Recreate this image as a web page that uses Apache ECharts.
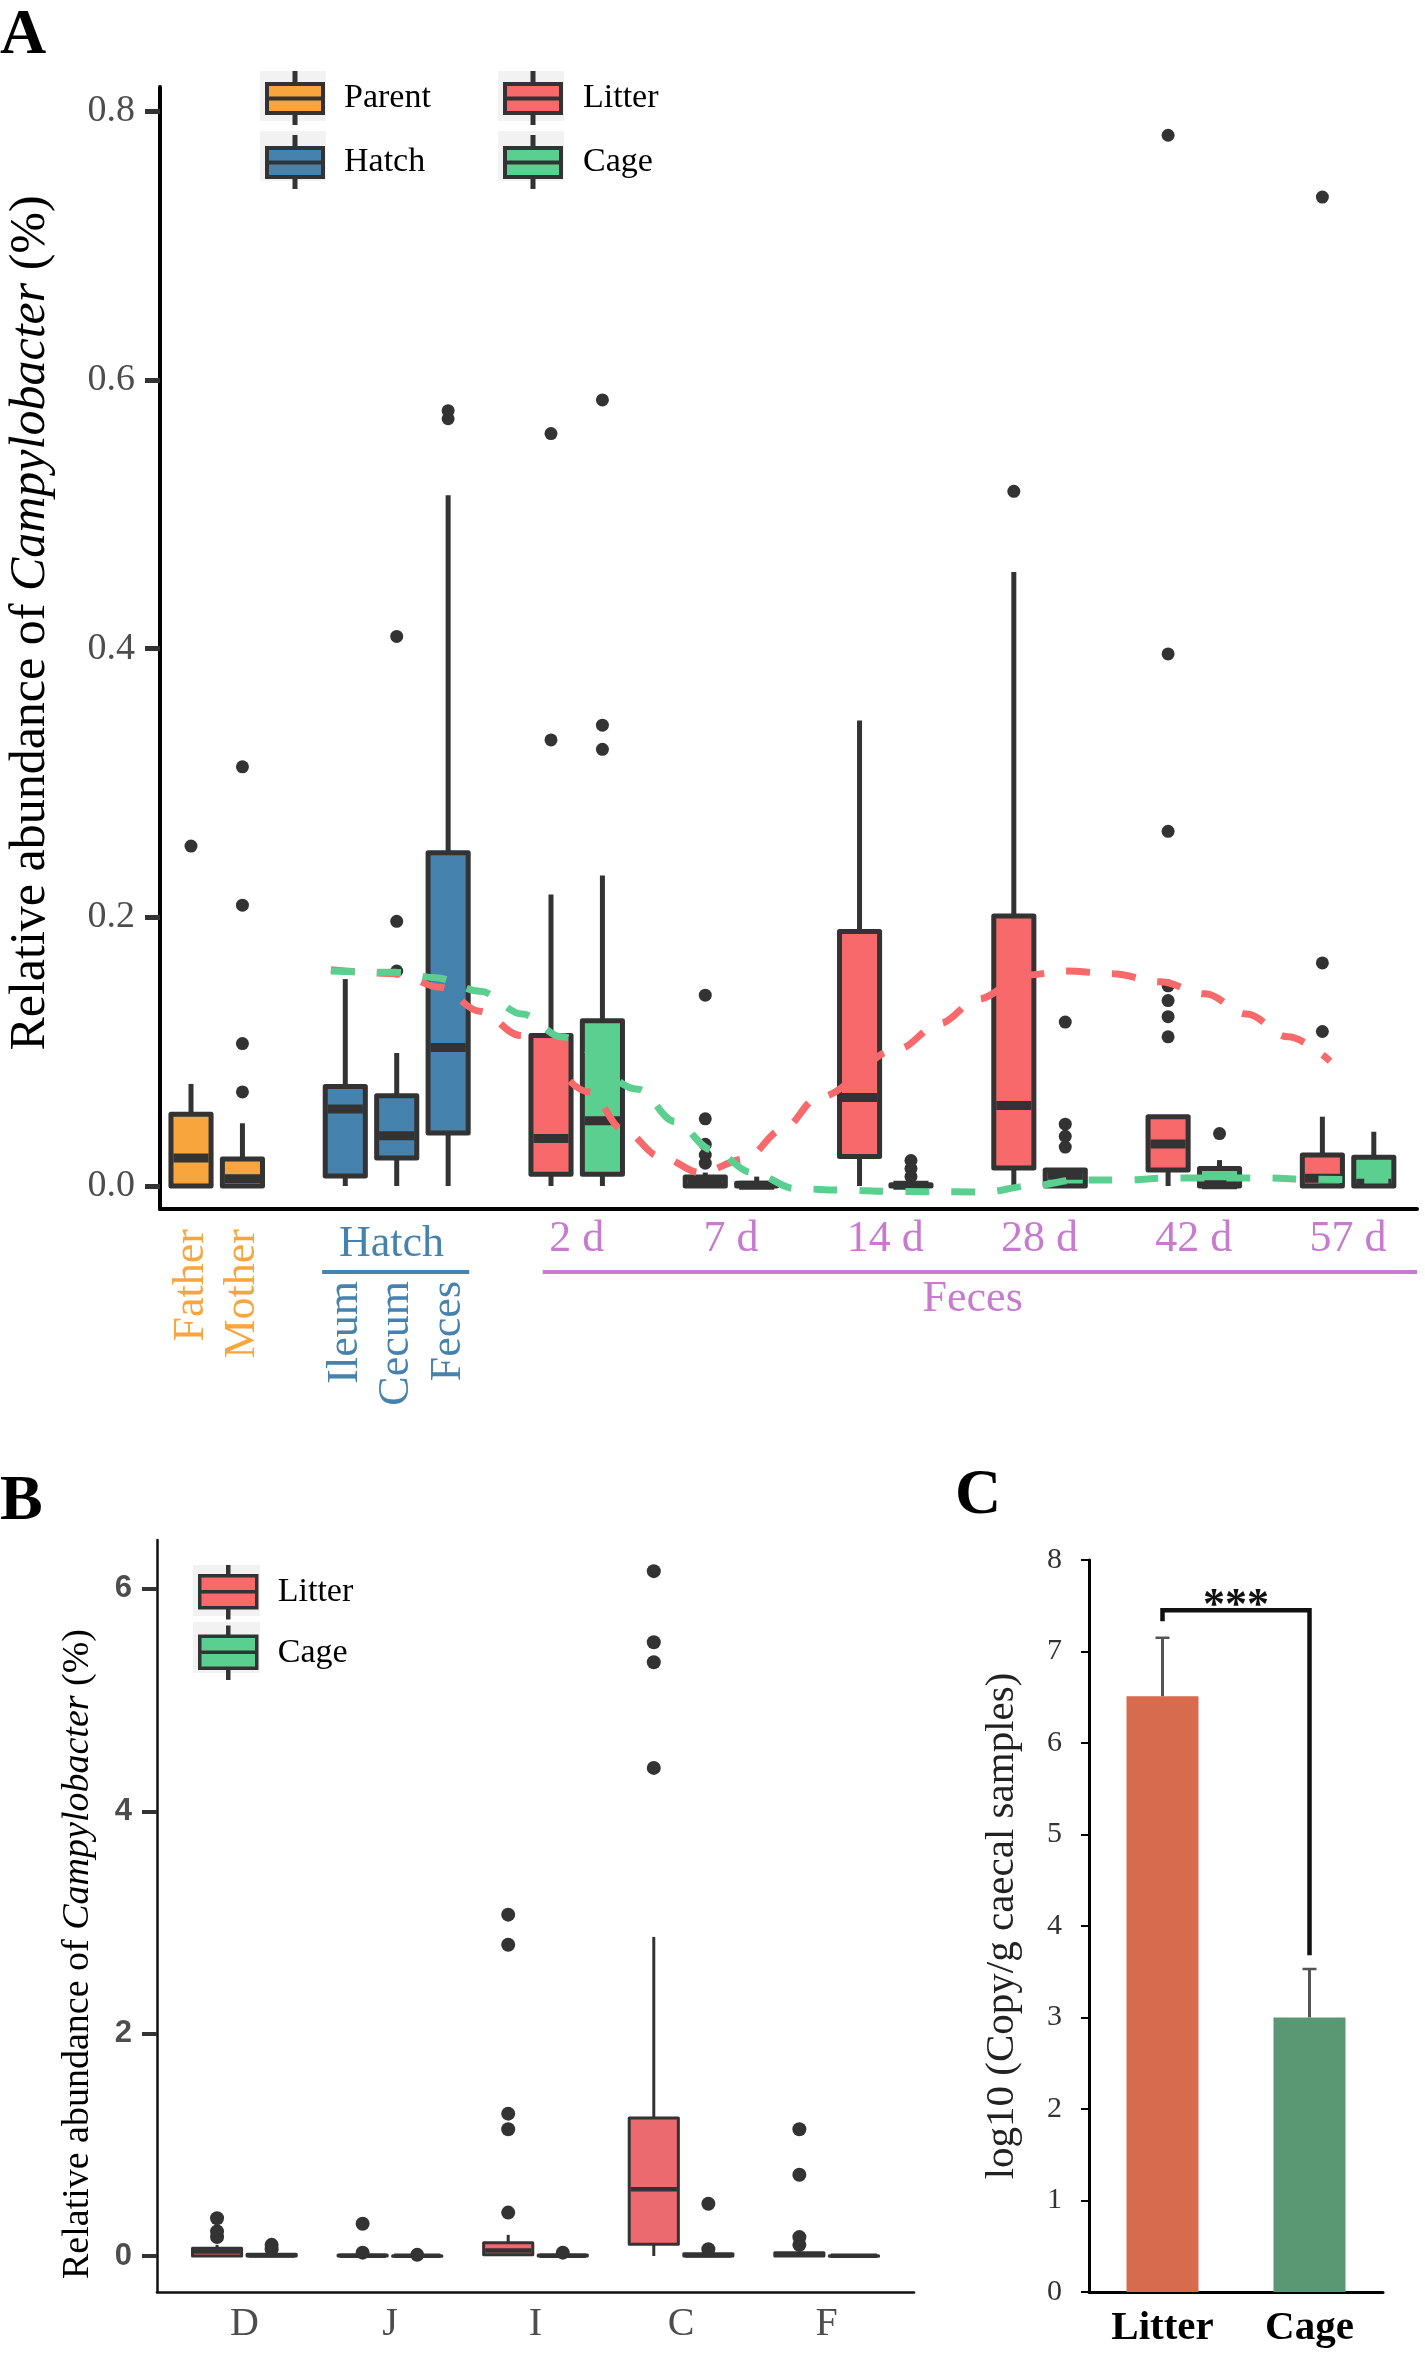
<!DOCTYPE html>
<html><head><meta charset="utf-8">
<script src="https://cdn.jsdelivr.net/npm/echarts@6/dist/echarts.min.js"></script>
<style>html,body{margin:0;padding:0;background:#fff}#c{width:1425px;height:2356px}</style>
</head><body><div id="c"></div>
<script>
// ================= DATA =================
// ---- Panel A: boxplot stats [min, Q1, median, Q3, max] ----
const parentNames = ['Father', 'Mother'];
const parentSlot = [0, 1];
const parentStats = [[0, 0, 0.0209, 0.0534, 0.076], [0, 0, 0.0055, 0.0202, 0.0467]];
const parentOutliers = [[0.253], [0.070, 0.106, 0.209, 0.312]];

const hatchNames = ['Ileum', 'Cecum', 'Feces'];
const hatchSlot = [3, 4, 5];
const hatchStats = [[0, 0.0074, 0.0574, 0.0741, 0.154], [0, 0.0209, 0.0374, 0.0672, 0.099], [0, 0.0395, 0.103, 0.248, 0.514]];
const hatchOutliers = [[], [0.160, 0.197, 0.409], [0.571, 0.577]];

const days = ['2 d', '7 d', '14 d', '28 d', '42 d', '57 d'];
const daySlot = [7.5, 10.5, 13.5, 16.5, 19.5, 22.5];
const litterStats = [
  [0, 0.0087, 0.0353, 0.112, 0.217],
  [0, 0, 0.0037, 0.0068, 0.010],
  [0, 0.022, 0.0659, 0.1895, 0.3465],
  [0, 0.0135, 0.060, 0.201, 0.457],
  [0, 0.0119, 0.0313, 0.0516, 0.0516],
  [0, 0, 0.0057, 0.023, 0.0516]
];
const litterOutliers = [
  [0.332, 0.560],
  [0.017, 0.023, 0.031, 0.050, 0.142],
  [],
  [0.517],
  [0.111, 0.126, 0.138, 0.149, 0.264, 0.396, 0.782],
  [0.115, 0.166, 0.736]
];
const cageStats = [
  [0, 0.0087, 0.0486, 0.123, 0.231],
  [0, 0, 0.0005, 0.002, 0.007],
  [0, 0, 0.0005, 0.001, 0.002],
  [0, 0, 0.008, 0.0119, 0.013],
  [0, 0, 0.001, 0.013, 0.0193],
  [0, 0, 0.002, 0.0214, 0.0404]
];
const cageOutliers = [
  [0.325, 0.343, 0.585],
  [],
  [0.007, 0.013, 0.019],
  [0.029, 0.037, 0.046, 0.122],
  [0.039],
  []
];
// smoothed trend lines
const litterTrendX = [2.72, 4.0, 4.84, 5.62, 6.40, 7.75, 8.4, 9.12, 9.9, 10.77, 11.5, 12.2, 13.75, 14.56, 15.30, 16.24, 17.03, 17.93, 18.84, 19.72, 20.53, 21.33, 22.15];
const litterTrendY = [0.161, 0.158, 0.148, 0.130, 0.112, 0.070, 0.042, 0.022, 0.010, 0.020, 0.042, 0.066, 0.102, 0.121, 0.139, 0.157, 0.160, 0.158, 0.152, 0.143, 0.128, 0.111, 0.093];
const cageTrendX = [2.72, 4.0, 4.76, 5.62, 6.44, 7.21, 8.69, 9.41, 10.13, 10.91, 11.76, 12.68, 13.61, 15.44, 16.31, 17.25, 18.16, 19.05, 20.90, 21.82, 23.02, 23.51];
const cageTrendY = [0.160, 0.159, 0.155, 0.145, 0.128, 0.111, 0.072, 0.048, 0.027, 0.010, -0.002, -0.003, -0.004, -0.0045, 0.000, 0.0045, 0.0045, 0.006, 0.006, 0.005, 0.0045, 0.0045];
const aYTicks = [0, 0.2, 0.4, 0.6, 0.8];

// ---- Panel B ----
const bCats = ['D', 'J', 'I', 'C', 'F'];
const bLitterStats = [
  [0, 0, 0.04, 0.07, 0.10],
  [0, 0, 0.002, 0.008, 0.015],
  [0, 0.01, 0.05, 0.12, 0.19],
  [0, 0.105, 0.60, 1.24, 2.87],
  [0, 0, 0.01, 0.03, 0.05]
];
const bLitterOutliers = [[0.17, 0.22, 0.34], [0.03, 0.29], [0.39, 1.14, 1.28, 2.80, 3.07], [4.39, 5.34, 5.52, 6.16], [0.10, 0.17, 0.73, 1.14]];
const bCageStats = [
  [0, 0, 0.005, 0.015, 0.03],
  [0, 0, 0.001, 0.003, 0.005],
  [0, 0, 0.002, 0.008, 0.015],
  [0, 0, 0.005, 0.02, 0.04],
  [0, 0, 0.001, 0.003, 0.005]
];
const bCageOutliers = [[0.06, 0.10], [0.01], [0.03], [0.06, 0.47], []];
const bYTicks = [0, 2, 4, 6];

// ---- Panel C ----
const cCats = ['Litter', 'Cage'];
const cMeans = [6.51, 3.00];
const cErrors = [0.64, 0.53];
const cSigLabel = '***';
const cBracketY = 7.45;
const cBracketEnds = [7.33, 3.68];

// ================= STYLE =================
const SERIF = '"Liberation Serif", "Times New Roman", serif';
const SANS = '"Liberation Sans", Arial, sans-serif';
const COL = { parent: '#F9A53E', hatch: '#4682AE', litter: '#F8696B', cage: '#5BCF90', purple: '#C67BCF', dark: '#333333' };
const cColors = ['#D66B4E', '#5A9874'];

function boxRenderer(widthUnits, lw, medLw) {
  return function (params, api) {
    const x = api.value(0);
    const lo = api.coord([x, api.value(1)]);
    const q1 = api.coord([x, api.value(2)]);
    const md = api.coord([x, api.value(3)]);
    const q3 = api.coord([x, api.value(4)]);
    const hi = api.coord([x, api.value(5)]);
    const w = api.size([widthUnits, 0])[0];
    const cx = lo[0];
    const fill = api.visual('color');
    const stroke = COL.dark;
    return { type: 'group', children: [
      { type: 'line', shape: { x1: cx, y1: hi[1], x2: cx, y2: q3[1] }, style: { stroke, lineWidth: lw } },
      { type: 'line', shape: { x1: cx, y1: q1[1], x2: cx, y2: lo[1] }, style: { stroke, lineWidth: lw } },
      { type: 'rect', shape: { x: cx - w / 2, y: q3[1], width: w, height: Math.max(q1[1] - q3[1], 0.5) }, style: { fill, stroke, lineWidth: lw, lineJoin: 'round' } },
      { type: 'line', shape: { x1: cx - w / 2 + lw / 2, y1: md[1], x2: cx + w / 2 - lw / 2, y2: md[1] }, style: { stroke, lineWidth: medLw } }
    ] };
  };
}
const rows = (slots, stats) => stats.map((s, i) => [slots[i]].concat(s));
const pts = (slots, outs) => { const r = []; outs.forEach((a, i) => a.forEach(v => r.push([slots[i], v]))); return r; };
const zip = (xs, ys) => xs.map((x, i) => [x, ys[i]]);

const litterSlot = daySlot.map(s => s - 0.5);
const cageSlot = daySlot.map(s => s + 0.5);
const bIdx = bCats.map((c, i) => i);
const bLitterSlot = bIdx.map(i => i - 0.1875);
const bCageSlot = bIdx.map(i => i + 0.1875);

const ICON_A = 'path://M27.5,0L28.5,0L28.5,11L27.5,11Z M0,11L56,11L56,25.5L0,25.5Z M0,25.5L56,25.5L56,40L0,40Z M27.5,40L28.5,40L28.5,50L27.5,50Z';
const ICON_B = 'path://M28,0L29,0L29,9L28,9Z M0,9L57,9L57,25L0,25Z M0,25L57,25L57,41L0,41Z M28,41L29,41L29,51L28,51Z';

const chart = echarts.init(document.getElementById('c'), null, { renderer: 'canvas' });

const legendText = (pad) => ({ fontFamily: SERIF, fontSize: 34, color: '#000', padding: [0, 0, 0, pad] });

const option = {
  animation: false,
  backgroundColor: '#fff',
  grid: [
    { left: 160, top: 87, width: 1257, height: 1122, containLabel: false, outerBoundsMode: 'none' },
    { left: 157, top: 1540, width: 757, height: 752, containLabel: false, outerBoundsMode: 'none' },
    { left: 1089, top: 1560, width: 294, height: 732, containLabel: false, outerBoundsMode: 'none' }
  ],
  legend: [
    { left: 265, top: 71, orient: 'vertical', padding: 0, itemWidth: 56, itemHeight: 50, itemGap: 10, icon: ICON_A, data: ['Parent', 'Hatch'], selectedMode: false, z: 10,
      itemStyle: { borderColor: COL.dark, borderWidth: 4 }, textStyle: legendText(16) },
    { left: 503, top: 71, orient: 'vertical', padding: 0, itemWidth: 56, itemHeight: 50, itemGap: 10, icon: ICON_A, data: ['Litter', 'Cage'], selectedMode: false, z: 10,
      itemStyle: { borderColor: COL.dark, borderWidth: 4 }, textStyle: legendText(17) },
    { left: 198, top: 1565, orient: 'vertical', padding: 0, itemWidth: 57, itemHeight: 51, itemGap: 6, icon: ICON_B, data: ['Litter', 'Cage'], selectedMode: false, z: 10,
      itemStyle: { borderColor: COL.dark, borderWidth: 3.5 }, textStyle: legendText(16) }
  ],
  xAxis: [
    { gridIndex: 0, type: 'value', min: -0.603, max: 23.84, axisLine: { show: true, onZero: false, lineStyle: { color: '#000', width: 4 } }, axisTick: { show: false }, axisLabel: { show: false }, splitLine: { show: false } },
    { gridIndex: 1, type: 'value', min: -0.6, max: 4.6, axisLine: { show: true, onZero: false, lineStyle: { color: '#111', width: 2.5 } }, axisTick: { show: false },
      axisLabel: { customValues: bIdx, formatter: v => bCats[Math.round(v)], margin: 12, fontFamily: SERIF, fontSize: 40, color: '#4d4d4d' }, splitLine: { show: false } },
    { gridIndex: 2, type: 'category', data: cCats, axisLine: { show: true, lineStyle: { color: '#000', width: 3 } }, axisTick: { show: false },
      axisLabel: { margin: 16, fontFamily: SERIF, fontWeight: 'bold', fontSize: 41, color: '#000' } }
  ],
  yAxis: [
    { gridIndex: 0, type: 'value', min: -0.0171, max: 0.8179,
      axisLine: { show: true, onZero: false, lineStyle: { color: '#000', width: 4 } },
      axisTick: { show: true, customValues: aYTicks, length: 15, lineStyle: { color: COL.dark, width: 5 } },
      axisLabel: { customValues: aYTicks, formatter: v => v.toFixed(1), margin: 25, fontFamily: SERIF, fontSize: 38, color: '#4d4d4d' },
      splitLine: { show: false },
      name: '{n|Relative abundance of }{i|Campylobacter}{n| (%)}', nameLocation: 'middle', nameGap: 104, nameMoveOverlap: false,
      nameTextStyle: { padding: [0, 0, 0, 50], rich: { n: { fontFamily: SERIF, fontSize: 50, color: '#000' }, i: { fontFamily: SERIF, fontStyle: 'italic', fontSize: 50, color: '#000' } } } },
    { gridIndex: 1, type: 'value', min: -0.324, max: 6.44,
      axisLine: { show: true, onZero: false, lineStyle: { color: '#111', width: 2.5 } },
      axisTick: { show: true, customValues: bYTicks, length: 15, lineStyle: { color: COL.dark, width: 4 } },
      axisLabel: { customValues: bYTicks, margin: 25, fontFamily: SANS, fontWeight: 'bold', fontSize: 31, color: '#4d4d4d' },
      splitLine: { show: false },
      name: '{n|Relative abundance of }{i|Campylobacter}{n| (%)}', nameLocation: 'middle', nameGap: 60, nameMoveOverlap: false,
      nameTextStyle: { padding: [0, 76, 0, 0], rich: { n: { fontFamily: SERIF, fontSize: 38, color: '#000' }, i: { fontFamily: SERIF, fontStyle: 'italic', fontSize: 38, color: '#000' } } } },
    { gridIndex: 2, type: 'value', min: 0, max: 8, interval: 1,
      axisLine: { show: true, lineStyle: { color: '#000', width: 3 } },
      axisTick: { show: true, length: 8, lineStyle: { color: '#000', width: 2 } },
      axisLabel: { margin: 27, fontFamily: SERIF, fontSize: 30, color: '#333' },
      splitLine: { show: false },
      name: 'log10 (Copy/g caecal samples)', nameLocation: 'middle', nameGap: 66, nameMoveOverlap: false,
      nameTextStyle: { fontFamily: SERIF, fontSize: 41, color: '#222' } }
  ],
  series: [
    // Panel A boxes
    { name: 'Parent', type: 'custom', xAxisIndex: 0, yAxisIndex: 0, itemStyle: { color: COL.parent, borderColor: COL.dark, borderWidth: 4 }, renderItem: boxRenderer(0.78, 5, 9), data: rows(parentSlot, parentStats), z: 2 },
    { name: 'Hatch', type: 'custom', xAxisIndex: 0, yAxisIndex: 0, itemStyle: { color: COL.hatch, borderColor: COL.dark, borderWidth: 4 }, renderItem: boxRenderer(0.78, 5, 9), data: rows(hatchSlot, hatchStats), z: 2 },
    { name: 'Litter', type: 'custom', xAxisIndex: 0, yAxisIndex: 0, itemStyle: { color: COL.litter, borderColor: COL.dark, borderWidth: 4 }, renderItem: boxRenderer(0.78, 5, 9), data: rows(litterSlot, litterStats), z: 2 },
    { name: 'Cage', type: 'custom', xAxisIndex: 0, yAxisIndex: 0, itemStyle: { color: COL.cage, borderColor: COL.dark, borderWidth: 4 }, renderItem: boxRenderer(0.78, 5, 9), data: rows(cageSlot, cageStats), z: 2 },
    { name: 'A outliers', type: 'scatter', xAxisIndex: 0, yAxisIndex: 0, symbolSize: 13, itemStyle: { color: COL.dark, opacity: 1 }, z: 3,
      data: [].concat(pts(parentSlot, parentOutliers), pts(hatchSlot, hatchOutliers), pts(litterSlot, litterOutliers), pts(cageSlot, cageOutliers)) },
    { name: 'Litter trend', type: 'line', xAxisIndex: 0, yAxisIndex: 0, smooth: 0.35, smoothMonotone: 'x', showSymbol: false, symbol: 'none', z: 4,
      lineStyle: { color: COL.litter, width: 7, type: [24, 22] }, data: zip(litterTrendX, litterTrendY) },
    { name: 'Cage trend', type: 'line', xAxisIndex: 0, yAxisIndex: 0, smooth: 0.35, smoothMonotone: 'x', showSymbol: false, symbol: 'none', z: 4,
      lineStyle: { color: COL.cage, width: 7, type: [24, 22] }, data: zip(cageTrendX, cageTrendY) },
    // Panel B boxes
    { name: 'Litter', type: 'custom', xAxisIndex: 1, yAxisIndex: 1, itemStyle: { color: '#EB6A70', borderColor: COL.dark, borderWidth: 3 }, renderItem: boxRenderer(0.3375, 3, 4.5), data: rows(bLitterSlot, bLitterStats), z: 2 },
    { name: 'Cage', type: 'custom', xAxisIndex: 1, yAxisIndex: 1, itemStyle: { color: COL.cage, borderColor: COL.dark, borderWidth: 3 }, renderItem: boxRenderer(0.3375, 3, 4.5), data: rows(bCageSlot, bCageStats), z: 2 },
    { name: 'B outliers', type: 'scatter', xAxisIndex: 1, yAxisIndex: 1, symbolSize: 14, itemStyle: { color: COL.dark, opacity: 1 }, z: 3,
      data: [].concat(pts(bLitterSlot, bLitterOutliers), pts(bCageSlot, bCageOutliers)) },
    // Panel C
    { name: 'log10 copies', type: 'bar', xAxisIndex: 2, yAxisIndex: 2, barWidth: 72, z: 2,
      data: cMeans.map((v, i) => ({ value: v, itemStyle: { color: cColors[i] } })) },
    { name: 'error', type: 'custom', xAxisIndex: 2, yAxisIndex: 2, z: 1,
      data: cMeans.map((m, i) => [i, m, m + cErrors[i]]),
      renderItem: function (params, api) {
        const a = api.coord([api.value(0), api.value(1)]);
        const b = api.coord([api.value(0), api.value(2)]);
        return { type: 'group', children: [
          { type: 'line', shape: { x1: a[0], y1: a[1], x2: b[0], y2: b[1] }, style: { stroke: '#555', lineWidth: 3 } },
          { type: 'line', shape: { x1: b[0] - 7, y1: b[1], x2: b[0] + 7, y2: b[1] }, style: { stroke: '#555', lineWidth: 2.5 } }
        ] };
      } },
    { name: 'significance', type: 'custom', xAxisIndex: 2, yAxisIndex: 2, z: 3,
      data: [[0, 1, cBracketY, cBracketEnds[0], cBracketEnds[1]]],
      renderItem: function (params, api) {
        const a = api.coord([api.value(0), api.value(2)]);
        const b = api.coord([api.value(1), api.value(2)]);
        const ae = api.coord([api.value(0), api.value(3)]);
        const be = api.coord([api.value(1), api.value(4)]);
        return { type: 'group', children: [
          { type: 'polyline', shape: { points: [[a[0], ae[1]], [a[0], a[1]], [b[0], b[1]], [b[0], be[1]]] }, style: { stroke: '#111', lineWidth: 4.5, fill: null } },
          { type: 'text', x: (a[0] + b[0]) / 2, y: a[1] - 4, style: { text: cSigLabel, fontFamily: SERIF, fontWeight: 'bold', fontSize: 44, fill: '#111', align: 'center', verticalAlign: 'middle' } }
        ] };
      } }
  ]
};
chart.setOption(option);

// ---- text annotations for panel A's grouped x axis (positions from the axis scale) ----
const px = s => chart.convertToPixel({ xAxisIndex: 0 }, s);
const g = [];
// legend key backgrounds
[[260, 71, 66, 50], [260, 131, 66, 50], [498, 71, 66, 50], [498, 131, 66, 50], [193, 1565, 67, 51], [193, 1622, 67, 51]].forEach(r =>
  g.push({ type: 'rect', z: 1, shape: { x: r[0], y: r[1], width: r[2], height: r[3] }, style: { fill: '#F2F2F2' } }));
const vtext = (t, x, y, color) => ({ type: 'text', z: 5, x, y, rotation: Math.PI / 2,
  style: { text: t, fontFamily: SERIF, fontSize: 44, fill: color, align: 'right', verticalAlign: 'middle' } });
parentNames.forEach((n, i) => g.push(vtext(n, px(parentSlot[i]), 1229, COL.parent)));
hatchNames.forEach((n, i) => g.push(vtext(n, px(hatchSlot[i]), 1281, COL.hatch)));
g.push({ type: 'text', z: 5, x: px(3.9), y: 1222, style: { text: 'Hatch', fontFamily: SERIF, fontSize: 44, fill: COL.hatch, align: 'center', verticalAlign: 'top' } });
g.push({ type: 'line', z: 5, shape: { x1: px(2.55), y1: 1272, x2: px(5.41), y2: 1272 }, style: { stroke: COL.hatch, lineWidth: 4 } });
days.forEach((d, i) => g.push({ type: 'text', z: 5, x: px(daySlot[i]), y: 1217, style: { text: d, fontFamily: SERIF, fontSize: 44, fill: COL.purple, align: 'center', verticalAlign: 'top' } }));
g.push({ type: 'line', z: 5, shape: { x1: px(6.84), y1: 1272, x2: px(23.84), y2: 1272 }, style: { stroke: COL.purple, lineWidth: 4 } });
g.push({ type: 'text', z: 5, x: px(15.2), y: 1277, style: { text: 'Feces', fontFamily: SERIF, fontSize: 44, fill: COL.purple, align: 'center', verticalAlign: 'top' } });
// panel letters
[['A', 0, 4], ['B', 0, 1470], ['C', 955, 1464]].forEach(p =>
  g.push({ type: 'text', z: 5, x: p[1], y: p[2], style: { text: p[0], fontFamily: SERIF, fontWeight: 'bold', fontSize: 64, fill: '#000', align: 'left', verticalAlign: 'top' } }));
chart.setOption({ graphic: g });
</script></body></html>
